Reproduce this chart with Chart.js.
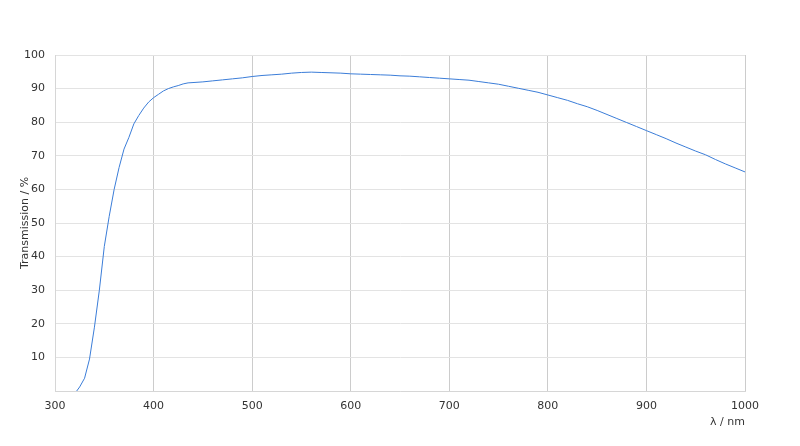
<!DOCTYPE html>
<html>
<head>
<meta charset="utf-8">
<script src="https://cdn.jsdelivr.net/npm/chart.js@4/dist/chart.umd.min.js"></script>
<style>
  html, body { margin: 0; padding: 0; background: #fff; }
  #wrap { width: 800px; height: 446px; }
</style>
</head>
<body>
<div id="wrap"><canvas id="transChart"></canvas></div>
<script>
// wavelength in nm
const wavelengths = [322, 325, 330, 335, 340, 345, 350, 355, 360, 365, 370, 375, 380, 385, 390, 395,
  400, 405, 410, 415, 420, 425, 430, 435, 440, 450, 460, 470, 480, 490,
  500, 510, 520, 530, 540, 550, 560, 570, 580, 590,
  600, 610, 620, 630, 640, 650, 660, 670, 680, 690,
  700, 710, 720, 730, 740, 750, 760, 770, 780, 790,
  800, 810, 820, 830, 840, 850, 860, 870, 880, 890,
  900, 910, 920, 930, 940, 950, 960, 970, 980, 990, 1000];
// transmission in %
const transmission = [0, 1.2, 3.8, 9.5, 19, 30, 43, 52, 60, 66.5, 72, 75.5, 79.5, 82, 84.2, 86,
  87.3, 88.3, 89.3, 90, 90.5, 90.9, 91.4, 91.7, 91.8, 92, 92.3, 92.6, 92.9, 93.2,
  93.6, 93.9, 94.1, 94.3, 94.6, 94.8, 94.9, 94.8, 94.7, 94.6,
  94.4, 94.3, 94.2, 94.1, 94.0, 93.8, 93.7, 93.5, 93.3, 93.1,
  92.9, 92.7, 92.5, 92.1, 91.7, 91.3, 90.7, 90.1, 89.5, 88.9,
  88.1, 87.3, 86.5, 85.5, 84.6, 83.5, 82.3, 81.1, 79.9, 78.7,
  77.5, 76.3, 75.1, 73.8, 72.6, 71.4, 70.3, 68.9, 67.6, 66.4, 65.2];

const xTicks = [300, 400, 500, 600, 700, 800, 900, 1000];
const yTicks = [10, 20, 30, 40, 50, 60, 70, 80, 90, 100];

const points = wavelengths.map((w, i) => ({ x: w, y: transmission[i] }));
const tickFont = { family: "DejaVu Sans", size: 11 };

new Chart(document.getElementById("transChart").getContext("2d"), {
    type: "line",
    data: {
        datasets: [{
            data: points,
            borderColor: "#3b7dd8",
            borderWidth: 1,
            pointRadius: 0,
            tension: 0,
            fill: false,
        }],
    },
    options: {
        responsive: true,
        maintainAspectRatio: false,
        animation: false,
        layout: { padding: { top: 55, right: 55, left: 0, bottom: 0 } },
        plugins: { legend: { display: false }, tooltip: { enabled: false } },
        scales: {
            x: {
                type: "linear",
                min: 300,
                max: 1000,
                afterFit: (scale) => { scale.height = 55; },
                afterBuildTicks: (scale) => { scale.ticks = xTicks.map(v => ({ value: v })); },
                ticks: { color: "#333", font: tickFont, padding: 9, callback: (v) => String(v) },
                grid: { color: "#cccccc", drawTicks: false },
                border: { color: "#d6d6d6" },
                title: {
                    display: true,
                    text: "λ / nm",
                    align: "end",
                    color: "#333",
                    font: tickFont,
                    padding: { top: 0, bottom: 17 },
                },
            },
            y: {
                min: 0,
                max: 100,
                afterFit: (scale) => { scale.width = 55; },
                afterBuildTicks: (scale) => { scale.ticks = [0].concat(yTicks).map(v => ({ value: v })); },
                ticks: {
                    color: "#333",
                    font: tickFont,
                    padding: 10,
                    callback: (v) => (v === 0 ? "" : String(v)),
                },
                grid: { color: "#e3e3e3", drawTicks: false },
                border: { color: "#d6d6d6" },
                title: {
                    display: true,
                    text: "Transmission / %",
                    color: "#333",
                    font: tickFont,
                    padding: { top: 19, bottom: 0 },
                },
            },
        },
    },
});
</script>
</body>
</html>
